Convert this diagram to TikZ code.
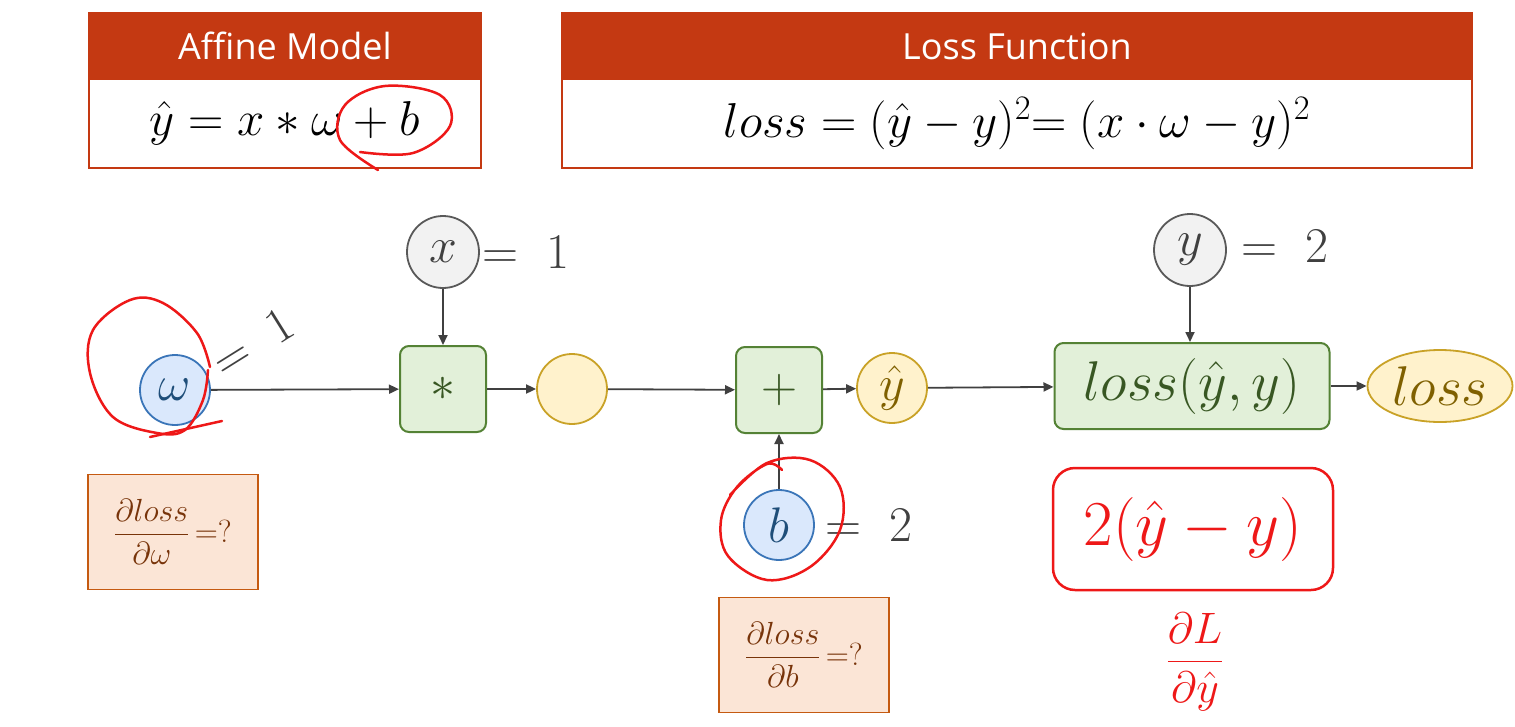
\RequirePackage{fix-cm}
\documentclass[tikz,border=0pt]{standalone}
\usepackage{amsmath}
\usepackage{fontspec}
\setsansfont{Open Sans}
\usepackage{xcolor}
\usepackage{tikz}
\usetikzlibrary{arrows.meta,positioning,shapes.geometric}

\definecolor{hdred}{RGB}{196,57,18}
\definecolor{arrgray}{RGB}{64,64,64}
\definecolor{varfill}{RGB}{242,242,242}
\definecolor{varline}{RGB}{89,89,89}
\definecolor{parfill}{RGB}{218,232,252}
\definecolor{parline}{RGB}{58,117,184}
\definecolor{partext}{RGB}{31,78,121}
\definecolor{opfill}{RGB}{226,240,217}
\definecolor{opline}{RGB}{84,130,53}
\definecolor{optext}{RGB}{56,87,35}
\definecolor{valfill}{RGB}{255,242,204}
\definecolor{valline}{RGB}{201,162,39}
\definecolor{valtext}{RGB}{127,96,0}
\definecolor{qfill}{RGB}{251,229,214}
\definecolor{qline}{RGB}{197,90,17}
\definecolor{qtext}{RGB}{120,52,10}
\definecolor{pen}{RGB}{238,24,24}

\newcommand{\fstitle}{\fontsize{36}{42}\selectfont}
\newcommand{\fsformula}{\fontsize{49}{56}\selectfont}
\newcommand{\fsnode}{\fontsize{50}{58}\selectfont}
\newcommand{\fslarge}{\fontsize{56}{64}\selectfont}
\newcommand{\fsquest}{\fontsize{32}{38}\selectfont}

\begin{document}
\begin{tikzpicture}[x=1pt, y=-1pt,
    title/.style={fill=hdred, draw=hdred, line width=1.5pt, minimum height=66pt, inner sep=0pt, text=white, font=\sffamily\fstitle},
    formula/.style={draw=hdred, line width=1.5pt, minimum height=89pt, inner sep=0pt, font=\fsformula},
    varnode/.style={circle, draw=varline, fill=varfill, line width=1.8pt, minimum size=72pt, inner sep=0pt, text=arrgray, font=\fsnode},
    parnode/.style={circle, draw=parline, fill=parfill, line width=1.8pt, minimum size=70pt, inner sep=0pt, text=partext, font=\fsnode},
    valnode/.style={circle, draw=valline, fill=valfill, line width=1.8pt, minimum size=70pt, inner sep=0pt, text=valtext, font=\fsnode},
    opbox/.style={draw=opline, fill=opfill, rounded corners=9pt, line width=2pt, minimum width=86pt, minimum height=86pt, inner sep=0pt, text=optext, font=\fsnode},
    quest/.style={draw=qline, fill=qfill, line width=1.8pt, minimum width=170pt, minimum height=115pt, inner sep=0pt, text=qtext, font=\fsquest},
    given/.style={text=arrgray, inner sep=0pt, font=\fsnode},
    pennote/.style={draw=pen, line width=2.5pt, rounded corners=22pt, minimum width=280pt, minimum height=122pt, inner sep=0pt, text=pen, font=\fontsize{64}{70}\selectfont},
    penloop/.style={draw=pen, line width=2.5pt, line cap=round},
    arrow/.style={-{Triangle[length=10pt,width=9pt]}, arrgray, line width=1.8pt}
]
    \useasboundingbox (0,0) rectangle (1515,726);
    \fill[white] (0,0) rectangle (1515,726);

    % Model and loss boxes
    \node[title, minimum width=392pt] (affinehd) at (285,46) {Affine Model};
    \node[formula, minimum width=392pt] (affine) at (285,123.5) {$\hat{y}=x\ast\omega+b$};
    \node[title, minimum width=910pt] (losshd) at (1017,46) {Loss Function};
    \node[formula, minimum width=910pt] (lossf) at (1017,123.5) {$loss=(\hat{y}-y)^2{=}\;(x\cdot\omega-y)^2$};

    % Computational graph
    \node[parnode] (w) at (175,390) {$\omega$};
    \node[varnode] (x) at (443,252) {$x$};
    \node[opbox] (mul) at (443,389) {$\ast$};
    \node[valnode] (prod) at (572,389) {};
    \node[opbox] (add) at (779,390) {$+$};
    \node[parnode] (b) at (779,525) {$b$};
    \node[valnode] (yhat) at (892,388) {$\hat{y}$};
    \node[varnode] (y) at (1190,250) {$y$};
    \node[opbox, minimum width=275pt, font=\fslarge] (lossfn) at (1192,386) {$loss(\hat{y},y)$};
    \node[ellipse, draw=valline, fill=valfill, line width=1.8pt, minimum width=145pt, minimum height=72pt, inner sep=0pt, text=valtext, font=\fslarge] (loss) at (1440,386) {$loss$};

    % Given values
    \node[given, rotate=32] (wval) at (253,343) {$=\;1$};
    \node[given] (xval) at (526,252) {$=\;1$};
    \node[given] (bval) at (869,525) {$=\;2$};
    \node[given] (yval) at (1285,246) {$=\;2$};

    % Questions
    \node[quest] (dw) at (173,532) {$\dfrac{\partial loss}{\partial\omega}\,{=}?$};
    \node[quest] (db) at (804,655) {$\dfrac{\partial loss}{\partial b}\,{=}?$};

    % Forward arrows
    \draw[arrow] (w) -- (mul);
    \draw[arrow] (x) -- (mul);
    \draw[arrow] (mul) -- (prod);
    \draw[arrow] (prod) -- (add);
    \draw[arrow] (b) -- (add);
    \draw[arrow] (add) -- (yhat);
    \draw[arrow] (yhat) -- (lossfn);
    \draw[arrow] (y) -- (y |- lossfn.north);
    \draw[arrow] (lossfn) -- (loss);

    % Hand-drawn marks
    \draw[penloop] plot[smooth, tension=0.6] coordinates {(360,152) (413,153) (450,126) (440,95) (385,86) (345,105) (340,140) (378,170)};
    \draw[penloop] plot[smooth, tension=0.6] coordinates {(210,367) (197,333) (163,303) (130,300) (93,330) (90,373) (113,417) (157,433) (185,430) (203,400) (208,370)};
    \draw[penloop] (150,437) -- (222,421);
    \draw[penloop] plot[smooth, tension=0.6] coordinates {(782,470) (767,464) (737,487) (721,520) (728,556) (767,580) (810,567) (840,530) (840,487) (810,460) (767,463) (730,495)};
    \node[pennote] (grad) at (1193,529) {$2(\hat{y}-y)$};
    \node[text=pen, inner sep=0pt, font=\fontsize{44}{50}\selectfont] (dldy) at (1195,662) {$\dfrac{\partial L}{\partial\hat{y}}$};
\end{tikzpicture}
\end{document}
